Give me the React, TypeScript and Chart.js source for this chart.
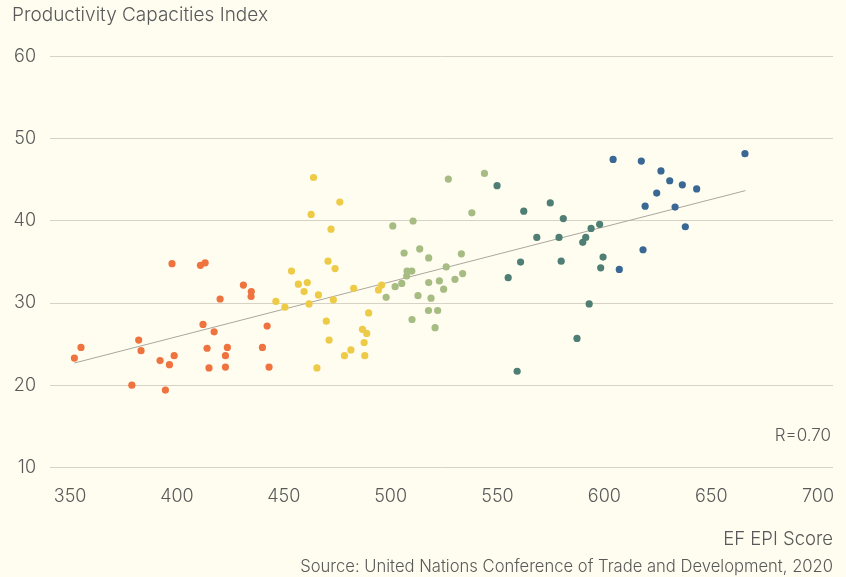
import React, { useEffect, useRef } from "react";
import { Chart, registerables } from "chart.js";

Chart.register(...registerables);

const orangeX = [352, 355.1, 378.9, 382.1, 383.2, 392.1, 394.6, 396.5, 397.7, 398.7, 411, 413.2, 412.2, 414.1, 415, 417.4, 420.2, 422.7, 422.7, 423.6, 431.1, 434.8, 434.7, 442.2, 440, 443.1];
const orangeY = [23.3, 24.6, 20.0, 25.5, 24.2, 23.0, 19.4, 22.5, 34.8, 23.6, 34.6, 34.9, 27.4, 24.5, 22.1, 26.5, 30.5, 23.6, 22.2, 24.6, 32.2, 31.4, 30.8, 27.2, 24.6, 22.2];

const yellowX = [463.9, 476.2, 462.8, 472.1, 453.6, 470.7, 474, 456.8, 461, 459.5, 466.2, 482.7, 495.8, 494.3, 450.5, 461.8, 473.2, 489.7, 469.9, 486.8, 488.8, 471.2, 487.6, 481.4, 478.4, 487.9, 465.5, 446.3];
const yellowY = [45.3, 42.3, 40.8, 39.0, 33.9, 35.1, 34.2, 32.3, 32.5, 31.4, 31.0, 31.8, 32.2, 31.6, 29.5, 29.9, 30.4, 28.8, 27.8, 26.8, 26.3, 25.5, 25.2, 24.3, 23.6, 23.6, 22.1, 30.2];

const greenX = [527, 543.9, 538, 501, 510.5, 506.3, 513.6, 517.8, 533.1, 507.7, 509.9, 507.5, 526, 533.7, 530.1, 502.1, 505.2, 517.8, 522.8, 524.8, 497.9, 512.8, 518.9, 517.7, 522, 510, 520.8];
const greenY = [45.1, 45.8, 41.0, 39.4, 40.0, 36.1, 36.6, 35.5, 36.0, 33.9, 33.9, 33.3, 34.4, 33.6, 32.9, 32.0, 32.4, 32.5, 32.7, 31.7, 30.7, 30.9, 30.6, 29.1, 29.1, 28.0, 27.0];

const tealX = [549.8, 562.3, 574.7, 580.8, 568.4, 578.8, 593.8, 597.8, 591.3, 589.9, 560.8, 579.8, 599.4, 598.3, 555, 592.9, 587.2, 559.2];
const tealY = [44.3, 41.2, 42.2, 40.3, 38.0, 38.0, 39.1, 39.6, 38.0, 37.4, 35.0, 35.1, 35.6, 34.3, 33.1, 29.9, 25.7, 21.7];

const blueX = [604.1, 617.3, 626.5, 630.6, 636.5, 643.2, 624.5, 619.1, 633.1, 637.9, 618.1, 607, 665.8];
const blueY = [47.5, 47.3, 46.1, 44.9, 44.4, 43.9, 43.4, 41.8, 41.7, 39.3, 36.5, 34.1, 48.2];

const trendX = [352, 666];
const trendY = [22.7, 43.7];

const xTicks = [350, 400, 450, 500, 550, 600, 650, 700];
const yTicks = [10, 20, 30, 40, 50, 60];

const titleText = "Productivity Capacities Index";
const xTitleText = "EF EPI Score";
const sourceText = "Source: United Nations Conference of Trade and Development, 2020";
const rText = "R=0.70";

const BG = "#fffcf0";
const TEXT = "#595959";
const FONT = "Inter";
const W = "300";

const pts = (xs: number[], ys: number[]) => xs.map((x, i) => ({ x, y: ys[i] }));

const rPlugin = {
  id: "rlabel",
  afterDatasetsDraw(chart: any) {
    const { ctx, chartArea } = chart;
    ctx.save();
    ctx.font = `${W} 17px ${FONT}`;
    ctx.fillStyle = TEXT;
    ctx.textAlign = "right";
    ctx.textBaseline = "middle";
    ctx.fillText(rText, chartArea.right - 2, 436);
    ctx.restore();
  },
};

export default function App() {
  const ref = useRef<HTMLCanvasElement | null>(null);
  useEffect(() => {
    if (!ref.current) return;
    const scatter = (xs: number[], ys: number[], color: string) => ({
      type: "scatter" as const,
      data: pts(xs, ys),
      backgroundColor: color,
      borderWidth: 0,
      pointRadius: 3.6,
      order: 0,
    });
    const chart = new Chart(ref.current, {
      type: "scatter",
      data: {
        datasets: [
          {
            type: "line",
            data: pts(trendX, trendY),
            borderColor: "#aaa79c",
            borderWidth: 1,
            pointRadius: 0,
            order: 10,
          } as any,
          scatter(orangeX, orangeY, "#ee733f"),
          scatter(yellowX, yellowY, "#eecb47"),
          scatter(greenX, greenY, "#a7bc83"),
          scatter(tealX, tealY, "#4f7f74"),
          scatter(blueX, blueY, "#396895"),
        ],
      },
      options: {
        animation: false,
        responsive: false,
        layout: { padding: { left: 12, right: 13, top: 0, bottom: 0 } },
        plugins: {
          legend: { display: false },
          tooltip: { enabled: false },
          title: {
            display: true,
            text: titleText,
            align: "start",
            color: TEXT,
            font: { family: FONT, size: 19, weight: W },
            padding: { top: 4, bottom: 30 },
          },
          subtitle: {
            display: true,
            text: sourceText,
            position: "bottom",
            align: "end",
            color: TEXT,
            font: { family: FONT, size: 16.6, weight: W },
            padding: { top: 4, bottom: 0 },
          },
        },
        scales: {
          x: {
            type: "linear",
            min: 340.6,
            max: 707,
            afterBuildTicks: (s: any) => {
              s.ticks = xTicks.map((v) => ({ value: v }));
            },
            afterFit: (s: any) => {
              s.paddingLeft = 0;
              s.paddingRight = 0;
            },
            grid: { display: false, drawTicks: false },
            border: { display: false },
            ticks: {
              color: TEXT,
              font: { family: FONT, size: 18, weight: W },
              padding: 19,
              maxRotation: 0,
            },
            title: {
              display: true,
              text: xTitleText,
              align: "end",
              color: TEXT,
              font: { family: FONT, size: 18.5, weight: W },
              padding: { top: 1, bottom: 3 },
            },
          },
          y: {
            type: "linear",
            min: 10,
            max: 60,
            afterBuildTicks: (s: any) => {
              s.ticks = yTicks.map((v) => ({ value: v }));
            },
            afterFit: (s: any) => {
              s.width = 38;
            },
            grid: { color: "#d6d3c6", lineWidth: 1, drawTicks: false },
            border: { display: false },
            ticks: {
              color: TEXT,
              font: { family: FONT, size: 18, weight: W },
              padding: 14,
            },
          },
        },
      } as any,
      plugins: [rPlugin],
    });
    return () => chart.destroy();
  }, []);

  return (
    <div
      style={{
        position: "fixed",
        left: 0,
        top: 0,
        width: 846,
        height: 577,
        background: BG,
      }}
    >
      <canvas ref={ref} width={846} height={577} style={{ display: "block" }} />
    </div>
  );
}
